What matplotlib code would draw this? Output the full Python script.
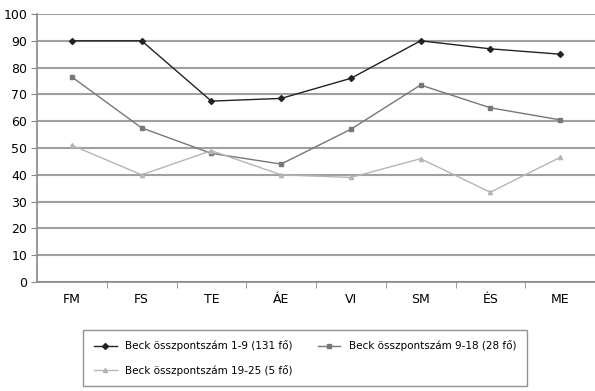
import matplotlib.pyplot as plt
import numpy as np

categories = ['FM', 'FS', 'TE', 'ÁE', 'VI', 'SM', 'ÉS', 'ME']
beck_1_9 = [90, 90, 67.5, 68.5, 76, 90, 87, 85]
beck_9_18 = [76.5, 57.5, 48, 44, 57, 73.5, 65, 60.5]
beck_19_25 = [51, 40, 49, 40, 39, 46, 33.5, 46.5]
labels = ['Beck összpontszám 1-9 (131 fő)',
          'Beck összpontszám 9-18 (28 fő)',
          'Beck összpontszám 19-25 (5 fő)']

fig = plt.figure(figsize=(5.95, 3.91), dpi=100)
ax = fig.add_axes([37 / 595, 1 - 282 / 391, 1 - 37 / 595, 268 / 391])

x = np.arange(len(categories))
l1, = ax.plot(x, beck_1_9, color='#222222', lw=1.0, marker='D', ms=3, label=labels[0])
l2, = ax.plot(x, beck_9_18, color='#777777', lw=1.0, marker='s', ms=3, label=labels[1])
l3, = ax.plot(x, beck_19_25, color='#b5b5b5', lw=1.0, marker='^', ms=3, label=labels[2])

ax.set_xlim(-0.5, len(categories) - 0.5)
ax.set_ylim(0, 100)
ax.set_yticks(np.arange(0, 101, 10))
ax.yaxis.grid(True, color='#a0a0a0', lw=1.5)
ax.set_axisbelow(True)

ax.set_xticks(x)
ax.set_xticklabels(categories, fontsize=9)
ax.set_xticks(x[:-1] + 0.5, minor=True)
ax.tick_params(axis='x', which='major', length=0, pad=8)
ax.tick_params(axis='x', which='minor', length=4, color='#888888', direction='out')
ax.tick_params(axis='y', labelsize=9, length=4, color='#888888', pad=3)

for side in ['top', 'right']:
    ax.spines[side].set_visible(False)
for side in ['left', 'bottom']:
    ax.spines[side].set_color('#888888')
    ax.spines[side].set_linewidth(1.2)

# legend fills row by row: first two series on top, third below
leg = fig.legend([l1, l3, l2], [labels[0], labels[2], labels[1]],
                 loc='center', bbox_to_anchor=(305 / 595, 1 - 358 / 391), ncol=2,
                 fontsize=7.5, frameon=True, fancybox=False, edgecolor='#777777',
                 handlelength=2.2, columnspacing=2.4, borderpad=1.0, labelspacing=1.3)
leg.get_frame().set_linewidth(1.0)

fig.savefig('out.png', dpi=100)
